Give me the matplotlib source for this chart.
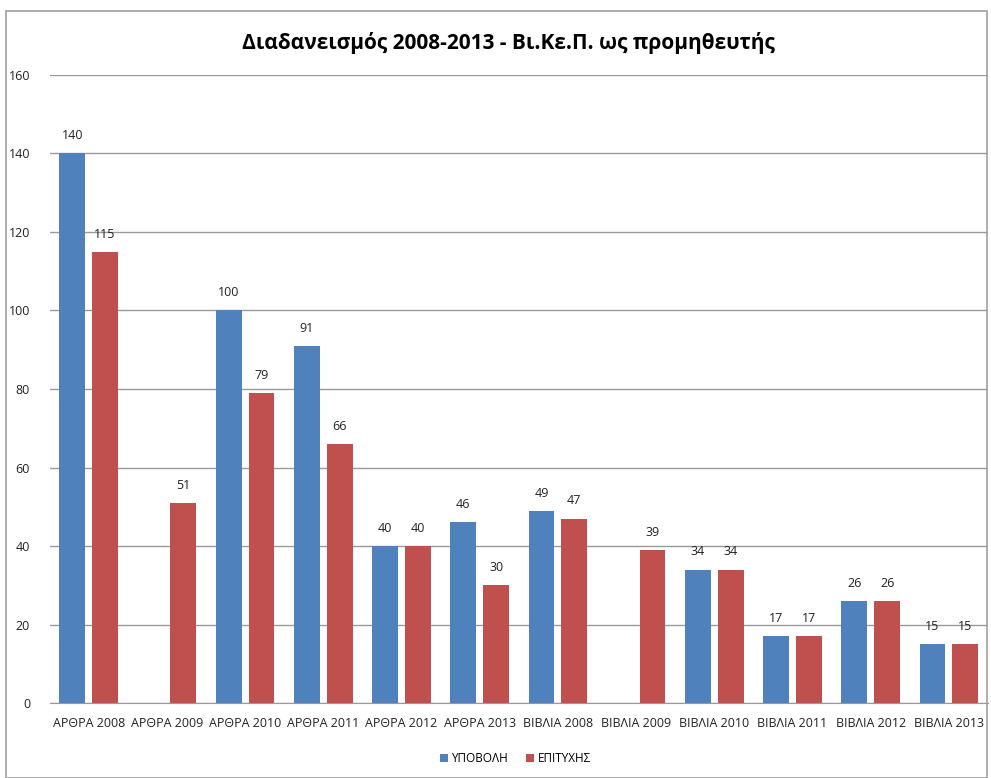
import matplotlib as mpl
mpl.use('Agg')
import matplotlib.pyplot as plt
import numpy as np
from matplotlib.patches import Rectangle

plt.rcParams['font.family'] = ['Open Sans', 'DejaVu Sans']

# κατηγορίες και τιμές
labels = ['ΑΡΘΡΑ 2008', 'ΑΡΘΡΑ 2009', 'ΑΡΘΡΑ 2010', 'ΑΡΘΡΑ 2011', 'ΑΡΘΡΑ 2012', 'ΑΡΘΡΑ 2013',
          'ΒΙΒΛΙΑ 2008', 'ΒΙΒΛΙΑ 2009', 'ΒΙΒΛΙΑ 2010', 'ΒΙΒΛΙΑ 2011', 'ΒΙΒΛΙΑ 2012', 'ΒΙΒΛΙΑ 2013']
ypovoli = [140, None, 100, 91, 40, 46, 49, None, 34, 17, 26, 15]
epityxis = [115, 51, 79, 66, 40, 30, 47, 39, 34, 17, 26, 15]
yticks = [0, 20, 40, 60, 80, 100, 120, 140, 160]

blue = '#4f81bd'
red = '#c0504d'

fig = plt.figure(figsize=(9.91, 7.78), dpi=100)
fig.patches.append(Rectangle((0.006, 0.0), 0.99, 0.986, transform=fig.transFigure,
                             fill=False, edgecolor='#a0a0a0', linewidth=1.2))
ax = fig.add_axes([0.05, 0.0964, 0.947, 0.8072])

x = np.arange(len(labels))
w = 0.33
off = 0.21
bx = [i for i, v in zip(x, ypovoli) if v is not None]
bv = [v for v in ypovoli if v is not None]
b1 = ax.bar(np.array(bx) - off, bv, w, color=blue, label='ΥΠΟΒΟΛΗ', zorder=2)
b2 = ax.bar(x + off, epityxis, w, color=red, label='ΕΠΙΤΥΧΗΣ', zorder=2)
for bars in (b1, b2):
    ax.bar_label(bars, padding=8, fontsize=9, color='#222222')

ax.set_xlim(-0.5, len(labels) - 0.5)
ax.set_ylim(0, 160)
ax.set_yticks(yticks)
ax.set_xticks(x, labels)
ax.tick_params(axis='both', length=0, labelsize=9, colors='#222222')
ax.tick_params(axis='y', pad=14)
ax.tick_params(axis='x', pad=10)
ax.grid(axis='y', color='#9a9a9a', linewidth=1, zorder=0)
for s in ['top', 'right', 'left']:
    ax.spines[s].set_visible(False)
ax.spines['bottom'].set_color('#9a9a9a')

fig.text(0.513, 0.945, 'Διαδανεισμός 2008-2013 - Βι.Κε.Π. ως προμηθευτής',
         ha='center', va='center', fontsize=15, fontweight='bold')
fig.legend(handles=[b1, b2], loc='center', bbox_to_anchor=(0.52, 0.025), ncol=2,
           frameon=False, fontsize=8.5, handlelength=0.7, handleheight=0.7,
           handletextpad=0.3, columnspacing=1.5)

plt.savefig('out.png')
plt.close()
